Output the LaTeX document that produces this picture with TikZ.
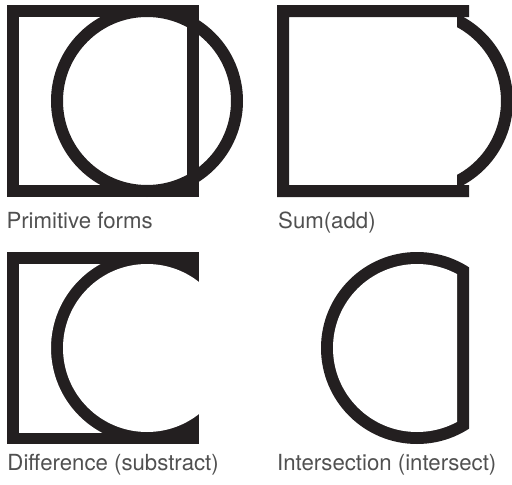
\documentclass[tikz,border=0pt]{standalone}
\usepackage{fontspec}
\usepackage{xcolor}
\usetikzlibrary{positioning}
\newfontfamily\labelfont{TeX Gyre Heros}
\definecolor{ink}{HTML}{231F20}
\definecolor{labelgray}{HTML}{505050}

\begin{document}
\begin{tikzpicture}[
  x=1pt, y=-1pt,
  band/.style={draw=ink, line width=12pt, miter limit=10},
  lbl/.style={anchor=base west, inner sep=0pt, text=labelgray,
              font=\labelfont\fontsize{22.2}{26}\selectfont}
]
\useasboundingbox (0,0) rectangle (512,485);
\coordinate (cprim) at (147,101);
\coordinate (csum)  at (417,101);
\coordinate (cdiff) at (147,348);
\coordinate (cint)  at (417,348);

% primitive forms
\draw[band] (13,11) rectangle (193,191);
\draw[band] (cprim) circle (90pt);
\node[lbl] (prim) at (6.3,228) {Primitive forms};

% sum
\fill[ink] (469,5) -- (277,5) -- (277,197) -- (469,197) -- (469,185)
  -- (289,185) -- (289,17) -- (469,17) -- cycle;
\begin{scope}
  \clip (457,0) rectangle (520,202);
  \fill[ink, even odd rule] (csum) circle (96pt) (csum) circle (84pt);
\end{scope}
\node[lbl] (sum) at (278,228) {Sum(add)};

% difference
\fill[ink] (7,252) rectangle (199,444);
\fill[white] (cdiff) circle (84pt);
\begin{scope}
  \clip (19,264) rectangle (187,432);
  \fill[white, even odd rule] (0,240) rectangle (260,460) (cdiff) circle (96pt);
\end{scope}
\node[lbl] (diff) at (7.3,470) {Difference (substract)};

% intersection
\begin{scope}
  \clip (277,252) rectangle (469,444);
  \fill[ink] (cint) circle (96pt);
\end{scope}
\begin{scope}
  \clip (289,264) rectangle (457,432);
  \fill[white] (cint) circle (84pt);
\end{scope}
\node[lbl] (inter) at (277,470) {Intersection (intersect)};
\end{tikzpicture}
\end{document}
